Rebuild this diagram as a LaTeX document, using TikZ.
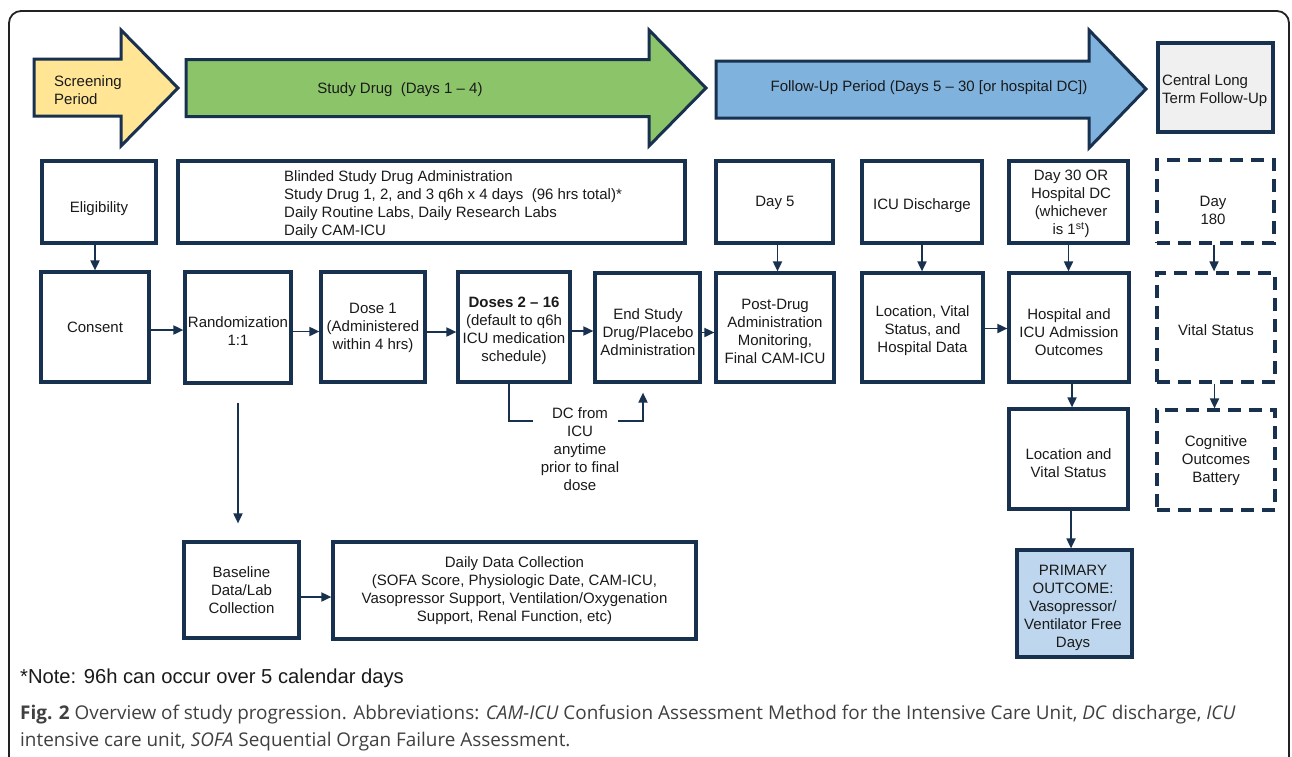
\documentclass[tikz,border=0pt]{standalone}
\usepackage{fontspec}
\setmainfont{Liberation Sans}
\newfontfamily\capfont{Open Sans}
\usetikzlibrary{arrows.meta}
\definecolor{navy}{HTML}{18314F}
\definecolor{txtc}{HTML}{1A1A1A}
\definecolor{frm}{HTML}{222222}
\definecolor{ylw}{HTML}{FFE594}
\definecolor{grn}{HTML}{8CC46A}
\definecolor{blu}{HTML}{7FB2DD}
\definecolor{gry}{HTML}{F0F0F0}
\definecolor{prm}{HTML}{BED7EE}
\definecolor{capc}{HTML}{404040}
\newcommand\fs{\fontsize{15}{18}\selectfont}
\tikzset{
  box/.style={draw=navy, line width=3.2pt, fill=white, inner sep=0pt},
  dbox/.style={box, dash pattern=on 13pt off 8pt},
  txt/.style={align=center, font=\fs, text=txtc, inner sep=0pt},
  conn/.style={draw=navy, line width=1.8pt, -{Triangle[length=10pt,width=9pt]}},
  lnk/.style={draw=navy, line width=1.8pt},
  phase/.style={draw=navy, line width=3pt, line join=miter},
}
\begin{document}
\begin{tikzpicture}[x=1pt,y=-1pt]
\useasboundingbox (0,0) rectangle (1292,756);
\fill[white] (0,0) rectangle (1292,756);
\begin{scope}
\clip (0,0) rectangle (1292,756);
\draw[line width=1.8pt, draw=frm, rounded corners=12pt] (9,11) rectangle (1289,800);
\end{scope}

% phase arrows
\draw[phase, fill=ylw] (34,59) -- (121,59) -- (121,30) -- (178,88) -- (121,146) -- (121,116) -- (34,116) -- cycle;
\draw[phase, fill=grn] (186,59.5) -- (649,59.5) -- (649,30) -- (706,88) -- (649,146) -- (649,116.5) -- (186,116.5) -- cycle;
\draw[phase, fill=blu] (716,61) -- (1089,61) -- (1089,30) -- (1146,89) -- (1089,148) -- (1089,118) -- (716,118) -- cycle;
\node[txt, align=left, anchor=west] (screen-t) at (54,90) {Screening\\Period};
\node[txt] (study-t) at (400,90) {Study Drug\ \ (Days 1 – 4)};
\node[txt] (follow-t) at (929,88) {Follow-Up Period (Days 5 – 30 [or hospital DC])};
\node[box, fill=gry, minimum width=115pt, minimum height=89pt] (central) at (1215.5,87.5) {};
\node[txt, align=left, anchor=west] (central-t) at (1162,91) {Central Long\\Term Follow-Up};

% row 1
\node[box, minimum width=114pt, minimum height=82pt] (elig) at (99,202) {};
\node[box, minimum width=507pt, minimum height=82pt] (blind) at (431.5,202) {};
\node[box, minimum width=117pt, minimum height=82pt] (day5) at (774.5,202) {};
\node[box, minimum width=120pt, minimum height=82pt] (icud) at (922,202) {};
\node[box, minimum width=119pt, minimum height=82pt] (day30) at (1068.5,202) {};
\node[dbox, minimum width=117pt, minimum height=83pt] (day180) at (1215.5,201.5) {};
\node[txt] (elig-t) at (99,209) {Eligibility};
\node[txt, align=left, anchor=west] (blind-t) at (284,205) {Blinded Study Drug Administration\\Study Drug 1, 2, and 3 q6h x 4 days\ \ (96 hrs total)*\\Daily Routine Labs, Daily Research Labs\\Daily CAM-ICU};
\node[txt] (day5-t) at (775,203) {Day 5};
\node[txt] (icud-t) at (922,206) {ICU Discharge};
\node[txt] (day30-t) at (1071,204) {Day 30 OR\\Hospital DC\\(whichever\\is 1\textsuperscript{st})};
\node[txt] (day180-t) at (1213,210.5) {Day\\180};

% row 2
\node[box, minimum width=108pt, minimum height=110pt] (consent) at (95,327) {};
\node[box, minimum width=106pt, minimum height=111pt] (rand) at (238,327.5) {};
\node[box, minimum width=104pt, minimum height=110pt] (dose1) at (373,327) {};
\node[box, minimum width=112pt, minimum height=110pt] (doses) at (514,327) {};
\node[box, minimum width=105pt, minimum height=109pt] (endst) at (647.5,327.5) {};
\node[box, minimum width=118pt, minimum height=109pt] (post) at (775,327.5) {};
\node[box, minimum width=121pt, minimum height=109pt] (loc) at (922.5,327.5) {};
\node[box, minimum width=120pt, minimum height=109pt] (hosp) at (1069,327.5) {};
\node[dbox, minimum width=118pt, minimum height=109pt] (vital) at (1216,327.5) {};
\node[txt] (consent-t) at (95,327) {Consent};
\node[txt] (rand-t) at (238,331) {Randomization\\1:1};
\node[txt] (dose1-t) at (373,328) {Dose 1\\(Administered\\within 4 hrs)};
\node[txt] (doses-t) at (514,330.5) {\textbf{Doses 2 – 16}\\(default to q6h\\ICU medication\\schedule)};
\node[txt] (endst-t) at (648,332.5) {End Study\\Drug/Placebo\\Administration};
\node[txt] (post-t) at (775,331) {Post-Drug\\Administration\\Monitoring,\\Final CAM-ICU};
\node[txt] (loc-t) at (922.5,330.5) {Location, Vital\\Status, and\\Hospital Data};
\node[txt] (hosp-t) at (1069,332.5) {Hospital and\\ICU Admission\\Outcomes};
\node[txt] (vital-t) at (1216,330) {Vital Status};

% row 3
\node[box, minimum width=119pt, minimum height=100pt] (locvs) at (1068.5,459) {};
\node[dbox, minimum width=118pt, minimum height=100pt] (cog) at (1216,460) {};
\node[txt] (locvs-t) at (1068.5,463.5) {Location and\\Vital Status};
\node[txt] (cog-t) at (1216,460.5) {Cognitive\\Outcomes\\Battery};
\node[txt] (dc-t) at (580,449) {DC from\\ICU\\anytime\\prior to final\\dose};

% row 4
\node[box, minimum width=115pt, minimum height=96pt] (base) at (241.5,590) {};
\node[box, minimum width=363pt, minimum height=97pt] (daily) at (514.5,590.5) {};
\node[box, fill=prm, minimum width=115pt, minimum height=107pt] (prim) at (1074.5,603.5) {};
\node[txt] (base-t) at (241.5,590) {Baseline\\Data/Lab\\Collection};
\node[txt] (daily-t) at (514.5,590.5) {Daily Data Collection\\(SOFA Score, Physiologic Date, CAM-ICU,\\Vasopressor Support, Ventilation/Oxygenation\\Support, Renal Function, etc)};
\node[txt] (prim-t) at (1073,608) {PRIMARY\\OUTCOME:\\Vasopressor/\\Ventilator Free\\Days};

% connectors
\draw[conn] (elig.south -| consent.north) -- (consent.north);
\draw[conn] ([yshift=-3pt]consent.east) -- ([yshift=-3pt]consent.east -| rand.west);
\draw[conn] ([yshift=-4pt]rand.east) -- ([yshift=-4pt]rand.east -| dose1.west);
\draw[conn] ([yshift=-5pt]dose1.east) -- ([yshift=-5pt]dose1.east -| doses.west);
\draw[conn] ([yshift=-4pt]doses.east) -- ([yshift=-4pt]doses.east -| endst.west);
\draw[conn] ([yshift=-5pt]endst.east) -- ([yshift=-5pt]endst.east -| post.west);
\draw[conn] ([yshift=-1pt]loc.east) -- ([yshift=-1pt]loc.east -| hosp.west);
\draw[conn] ([xshift=3pt]day5.south) -- ([xshift=3pt]day5.south |- post.north);
\draw[conn] (icud.south) -- (icud.south |- loc.north);
\draw[conn] (day30.south) -- (day30.south |- hosp.north);
\draw[conn] ([xshift=-1.5pt]day180.south) -- ([xshift=-1.5pt]day180.south |- vital.north);
\draw[conn] ([xshift=3pt]hosp.south) -- ([xshift=3pt]hosp.south |- locvs.north);
\draw[conn] ([xshift=-1.5pt]vital.south) -- ([xshift=-1.5pt]vital.south |- cog.north);
\draw[conn] ([xshift=2.5pt]locvs.south) -- ([xshift=2.5pt]locvs.south |- prim.north);
\draw[conn] ([yshift=-7pt]base.east) -- ([yshift=-7pt]base.east -| daily.west);
\draw[conn, shorten <=18pt, shorten >=17pt] (rand.south) -- (rand.south |- base.north);
\coordinate (dcA) at (509,421);
\coordinate (dcB) at (533,421);
\coordinate (dcC) at (618,421);
\draw[lnk] (doses.south -| dcA) -- (dcA) -- (dcB);
\draw[conn, shorten >=9pt] (dcC) -| ([xshift=-4.5pt]endst.south);

% notes
\node[anchor=base west, inner sep=0pt, font=\fontsize{20.2}{24}\selectfont, text=txtc] (note) at (20,683) {*Note: 96h can occur over 5 calendar days};
\node[anchor=base west, inner sep=0pt, font=\capfont\fontsize{18.9}{22}\selectfont, text=capc] (cap1) at (20,719) {\textbf{Fig. 2} Overview of study progression. Abbreviations: \textit{CAM-ICU} Confusion Assessment Method for the Intensive Care Unit, \textit{DC} discharge, \textit{ICU}};
\node[anchor=base west, inner sep=0pt, font=\capfont\fontsize{18.9}{22}\selectfont, text=capc] (cap2) at (20,746) {intensive care unit, \textit{SOFA} Sequential Organ Failure Assessment.};
\end{tikzpicture}
\end{document}
